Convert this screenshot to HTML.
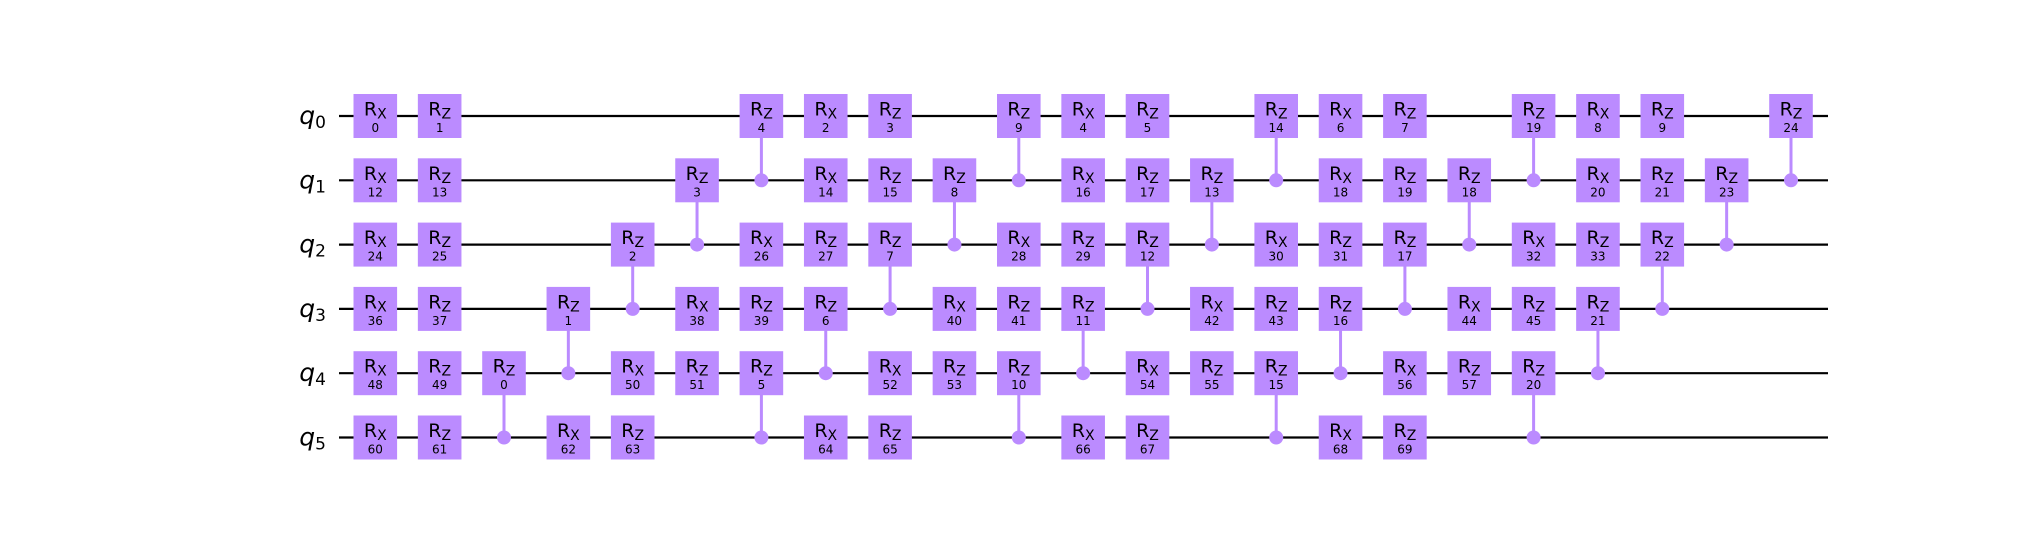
<!DOCTYPE html>
<html><head><meta charset="utf-8"><style>
html,body{margin:0;padding:0;background:#fff;width:2043px;height:535px;overflow:hidden}
svg text{font-family:"DejaVu Sans","Liberation Sans",sans-serif}
</style></head><body>
<svg id="c" width="2043" height="535" viewBox="0 0 2043 535" xmlns="http://www.w3.org/2000/svg"></svg>
<script>
// each gate: [column, qubit, type, number, controlQubit or -1]
const gateCols = [0,0,0,0,0,0, 1,1,1,1,1,1, 2, 3,3, 4,4,4, 5,5,5, 6,6,6,6, 7,7,7,7,7, 8,8,8,8,8, 9,9,9, 10,10,10,10, 11,11,11,11,11, 12,12,12,12,12, 13,13,13, 14,14,14,14, 15,15,15,15,15, 16,16,16,16,16, 17,17,17, 18,18,18,18, 19,19,19,19, 20,20,20, 21, 22];
const gateQubits = [0,1,2,3,4,5, 0,1,2,3,4,5, 4, 3,5, 2,4,5, 1,3,4, 0,2,3,4, 0,1,2,3,5, 0,1,2,4,5, 1,3,4, 0,2,3,4, 0,1,2,3,5, 0,1,2,4,5, 1,3,4, 0,2,3,4, 0,1,2,3,5, 0,1,2,4,5, 1,3,4, 0,2,3,4, 0,1,2,3, 0,1,2, 1, 0];
const gateTypes = ["X","X","X","X","X","X","Z","Z","Z","Z","Z","Z","Z","Z","X","Z","X","Z","Z","X","Z","Z","X","Z","Z","X","X","Z","Z","X","Z","Z","Z","X","Z","Z","X","Z","Z","X","Z","Z","X","X","Z","Z","X","Z","Z","Z","X","Z","Z","X","Z","Z","X","Z","Z","X","X","Z","Z","X","Z","Z","Z","X","Z","Z","X","Z","Z","X","Z","Z","X","X","Z","Z","Z","Z","Z","Z","Z"];
const gateNums = [0,12,24,36,48,60, 1,13,25,37,49,61, 0, 1,62, 2,50,63, 3,38,51, 4,26,39,5, 2,14,27,6,64, 3,15,7,52,65, 8,40,53, 9,28,41,10, 4,16,29,11,66, 5,17,12,54,67, 13,42,55, 14,30,43,15, 6,18,31,16,68, 7,19,17,56,69, 18,44,57, 19,32,45,20, 8,20,33,21, 9,21,22, 23, 24];
const gateCtrls = [-1,-1,-1,-1,-1,-1, -1,-1,-1,-1,-1,-1, 5, 4,-1, 3,-1,-1, 2,-1,-1, 1,-1,-1,5, -1,-1,-1,4,-1, -1,-1,3,-1,-1, 2,-1,-1, 1,-1,-1,5, -1,-1,-1,4,-1, -1,-1,3,-1,-1, 2,-1,-1, 1,-1,-1,5, -1,-1,-1,4,-1, -1,-1,3,-1,-1, 2,-1,-1, 1,-1,-1,5, -1,-1,-1,4, -1,-1,3, 2, 1];
const qubitLabels = ["0","1","2","3","4","5"];

const svg = document.getElementById('c');
const NS = 'http://www.w3.org/2000/svg';
const colX = c => 375.3 + c * 64.35;
const wireY = q => 116 + q * 64.3;
function mk(tag, attrs, parent){const e=document.createElementNS(NS,tag);for(const k in attrs)e.setAttribute(k,attrs[k]);(parent||svg).appendChild(e);return e;}

qubitLabels.forEach((l,q)=>{
  const w = mk('line',{x1:339,x2:1828,y1:wireY(q),y2:wireY(q),stroke:'#000','stroke-width':2.2});
  
  
  const t = mk('text',{x:326,y:wireY(q)+8,'text-anchor':'end','font-size':25,'font-style':'italic'});
  
  
  t.textContent='q';
  const s = mk('tspan',{'font-size':17,'font-style':'normal',dy:4},t);
  s.textContent=l;
});
const PURPLE='#bb8bff';
gateCols.forEach((c,i)=>{
  const x=colX(c), y=wireY(gateQubits[i]);
  const g = mk('g',{});
  
  
  if(gateCtrls[i]>=0){
    const cy=wireY(gateCtrls[i]);
    mk('line',{x1:x,x2:x,y1:y,y2:cy,stroke:PURPLE,'stroke-width':3},g);
    const d = mk('circle',{cx:x,cy:cy,r:7,fill:PURPLE},g);
    
    
  }
  mk('rect',{x:x-21.8,y:y-22,width:43.6,height:44,fill:PURPLE},g);
  const t = mk('text',{x:x,y:y-0.5,'text-anchor':'middle','font-size':19,fill:'#000'},g);
  t.textContent='R';
  const s = mk('tspan',{'font-size':14,dy:3},t); s.textContent=gateTypes[i];
  const n = mk('text',{x:x,y:y+16,'text-anchor':'middle','font-size':12,fill:'#000'},g);
  n.textContent=gateNums[i];
});
</script>
</body></html>
